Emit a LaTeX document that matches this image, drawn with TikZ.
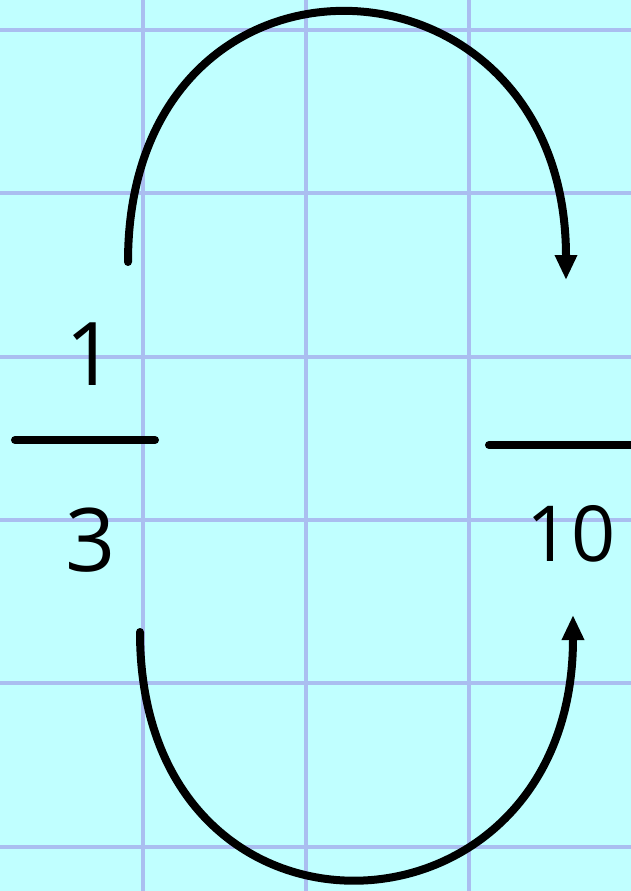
\documentclass[tikz,border=0pt]{standalone}
\usepackage{fontspec}
\setmainfont{Open Sans}
\usepackage{xcolor}
\usetikzlibrary{arrows.meta,positioning,calc}
\definecolor{paper}{RGB}{192,255,255}
\definecolor{gridline}{RGB}{170,190,240}
\begin{document}
\begin{tikzpicture}[x=0.02cm, y=-0.02cm, >={Triangle[length=0.5cm,width=0.42cm]},
  gridln/.style={gridline, line width=0.07cm},
  barln/.style={line width=0.16cm, line cap=round},
  curve/.style={line width=0.16cm, line cap=round, ->},
  digit/.style={font=\fontsize{50}{60}\selectfont, inner sep=0pt}]
\fill[paper] (0,0) rectangle (631,891);
\useasboundingbox (0,0) rectangle (631,891);
\foreach \gx in {143,306,469} \draw[gridln] (\gx,0) -- (\gx,891);
\foreach \gy in {30,193,357,520,683,847} \draw[gridln] (0,\gy) -- (631,\gy);
\node[digit] (num) at (91,354) {1};
\node[digit] (den) at (91,540) {3};
\node[digit, font=\fontsize{44}{54}\selectfont] (newden) at (571,534) {10};
\draw[barln] (15,440) -- (155,440);
\draw[barln] (489,445) -- (640,445);
\coordinate (topstart) at (128,262);
\coordinate (topend) at (566,280);
\coordinate (botstart) at (140,632);
\coordinate (botend) at (573,615);
\draw[curve] (topstart) to[out=90, in=90, looseness=2] (topend);
\draw[curve] (botstart) to[out=-90, in=-90, looseness=2] (botend);
\end{tikzpicture}
\end{document}
